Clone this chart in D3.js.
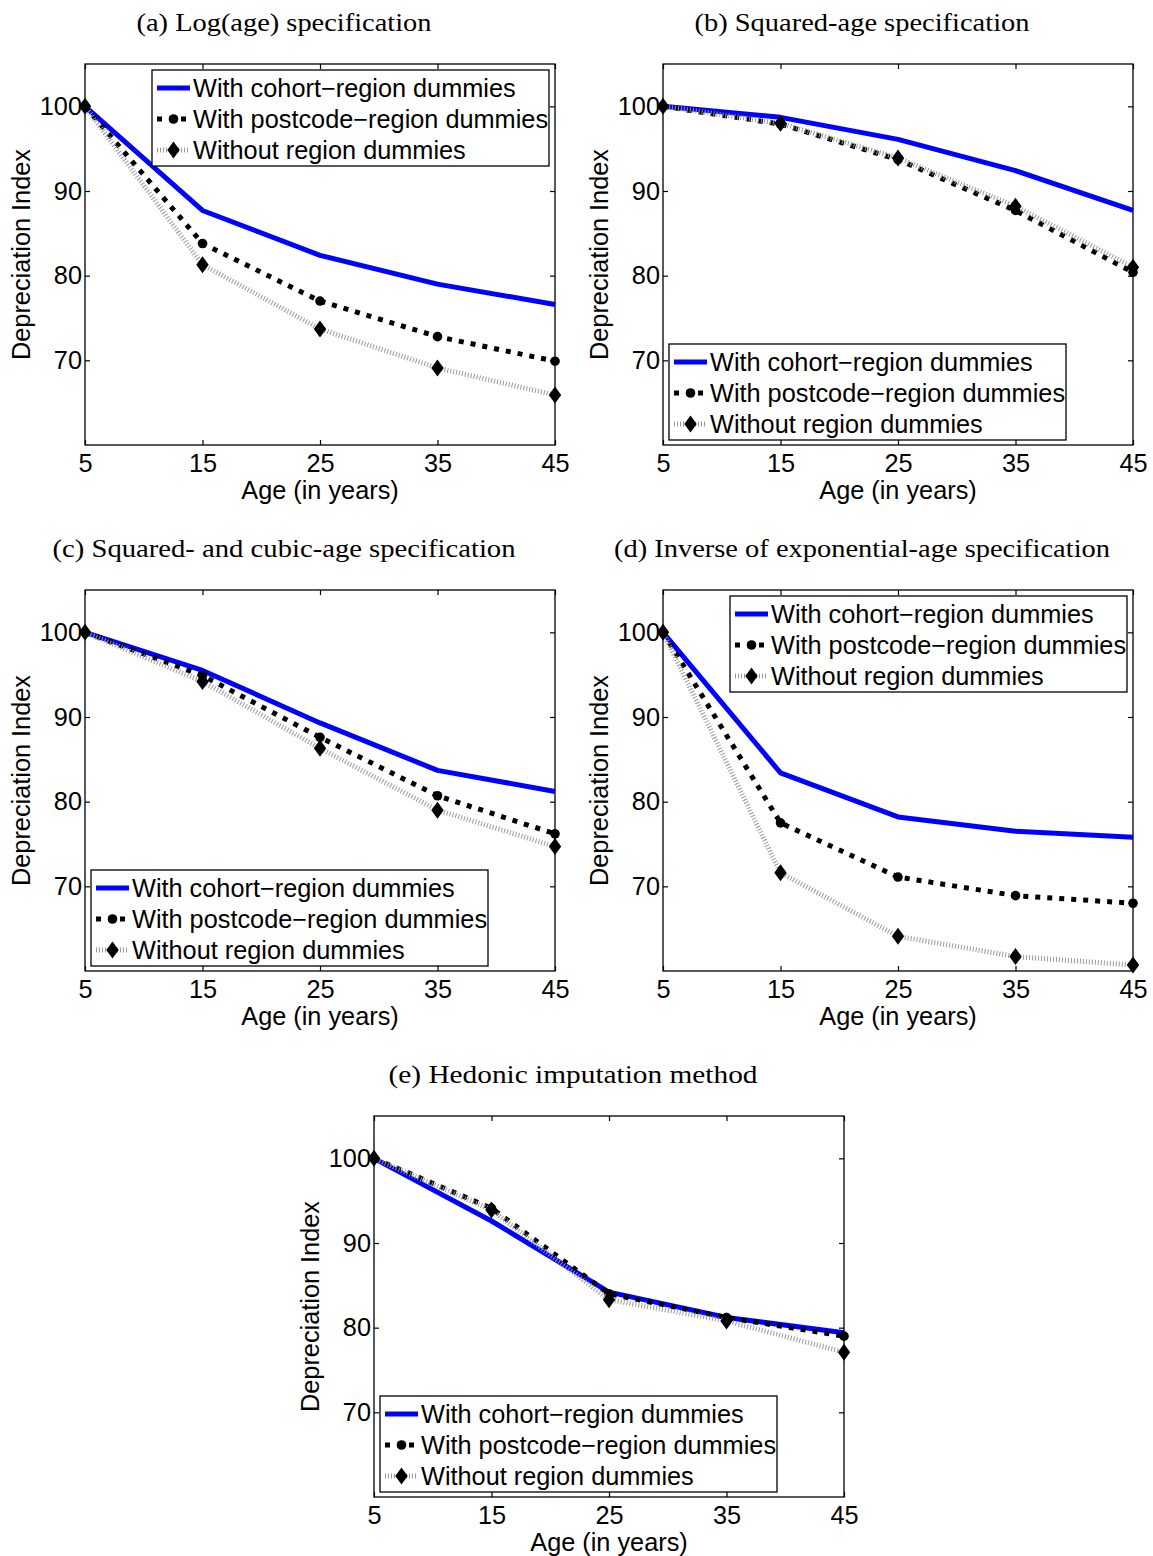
<!DOCTYPE html>
<html><head><meta charset="utf-8">
<script src="https://cdn.jsdelivr.net/npm/d3@7"></script>
<style>body{margin:0;background:#fff}</style>
</head><body>
<svg id="chart" width="1153" height="1556"></svg>
<script>
// ---------- data ----------
const ages = [5, 15, 25, 35, 45];
const yTicks = [70, 80, 90, 100];
const seriesNames = ["With cohort\u2212region dummies", "With postcode\u2212region dummies", "Without region dummies"];
const panelTitles = [
  "(a) Log(age) specification",
  "(b) Squared-age specification",
  "(c) Squared- and cubic-age specification",
  "(d) Inverse of exponential-age specification",
  "(e) Hedonic imputation method"
];
const xLabel = "Age (in years)";
const yLabel = "Depreciation Index";

const cohortA   = [100, 87.7, 82.4, 79.0, 76.6];
const postcodeA = [100, 83.8, 77.0, 72.8, 69.9];
const withoutA  = [100, 81.3, 73.7, 69.1, 65.9];

const cohortB   = [100, 98.7, 96.1, 92.4, 87.7];
const postcodeB = [100, 97.9, 93.7, 87.7, 80.4];
const withoutB  = [100, 98.0, 93.9, 88.2, 81.0];

const cohortC   = [100, 95.5, 89.3, 83.7, 81.2];
const postcodeC = [100, 94.9, 87.6, 80.7, 76.2];
const withoutC  = [100, 94.2, 86.3, 79.0, 74.7];

const cohortD   = [100, 83.4, 78.2, 76.5, 75.8];
const postcodeD = [100, 77.5, 71.1, 68.9, 68.0];
const withoutD  = [100, 71.6, 64.1, 61.7, 60.7];

const cohortE   = [100, 92.6, 84.2, 81.2, 79.4];
const postcodeE = [100, 94.1, 84.0, 81.2, 79.0];
const withoutE  = [100, 93.9, 83.3, 80.8, 77.1];

// ---------- layout ----------
const W = 470, H = 381;
const panels = [
  { title: panelTitles[0], series: [cohortA, postcodeA, withoutA], left: 85,  top: 64,   legend: "ne", tw: 295 },
  { title: panelTitles[1], series: [cohortB, postcodeB, withoutB], left: 663, top: 64,   legend: "sw", tw: 335 },
  { title: panelTitles[2], series: [cohortC, postcodeC, withoutC], left: 85,  top: 590,  legend: "sw", tw: 463 },
  { title: panelTitles[3], series: [cohortD, postcodeD, withoutD], left: 663, top: 590,  legend: "ne", tw: 496 },
  { title: panelTitles[4], series: [cohortE, postcodeE, withoutE], left: 374, top: 1116, legend: "sw", tw: 369 }
];

const styles = [
  { stroke: "#0000ff", width: 5, dash: null, marker: null },
  { stroke: "#000", width: 5, dash: "5,7", marker: "circle" },
  { stroke: "#999", width: 5, dash: "1,2", marker: "diamond" }
];
const SANS = "'Liberation Sans', Arial, Helvetica, sans-serif";
const SERIF = "'Liberation Serif', 'Times New Roman', serif";
const FS = 25.3;
const diamondPath = "M0,-8.5L6.2,0L0,8.5L-6.2,0Z";

const svg = d3.select("#chart");

function drawMarker(g, type, cx, cy) {
  if (type === "circle") {
    g.append("circle").attr("cx", cx).attr("cy", cy).attr("r", 4.8).attr("fill", "#000");
  } else if (type === "diamond") {
    g.append("path").attr("d", diamondPath).attr("transform", `translate(${cx},${cy})`).attr("fill", "#000");
  }
}

panels.forEach(p => {
  const x = d3.scaleLinear().domain([5, 45]).range([0, W]);
  const y = d3.scaleLinear().domain([60, 105]).range([H, 0]);

  // title
  svg.append("text")
    .attr("x", p.left + W / 2 - 36)
    .attr("y", p.top - 33)
    .attr("text-anchor", "middle")
    .attr("font-family", SERIF)
    .attr("font-size", 25)
    .attr("textLength", p.tw)
    .attr("lengthAdjust", "spacingAndGlyphs")
    .text(p.title);

  const g = svg.append("g").attr("transform", `translate(${p.left},${p.top})`);

  // frame
  g.append("rect").attr("x", 0).attr("y", 0).attr("width", W).attr("height", H)
    .attr("fill", "#fff").attr("stroke", "#000").attr("stroke-width", 1.3);

  // axes
  const axB = g.append("g").attr("transform", `translate(0,${H})`)
    .call(d3.axisBottom(x).tickValues(ages).tickSizeInner(-5).tickSizeOuter(0).tickPadding(9).tickFormat(d3.format("d")));
  const axT = g.append("g")
    .call(d3.axisTop(x).tickValues(ages).tickSizeInner(-5).tickSizeOuter(0).tickFormat(""));
  const axL = g.append("g")
    .call(d3.axisLeft(y).tickValues(yTicks).tickSizeInner(-5).tickSizeOuter(0).tickPadding(3).tickFormat(d3.format("d")));
  const axR = g.append("g").attr("transform", `translate(${W},0)`)
    .call(d3.axisRight(y).tickValues(yTicks).tickSizeInner(-5).tickSizeOuter(0).tickFormat(""));
  [axB, axT, axL, axR].forEach(a => {
    a.select(".domain").remove();
    a.selectAll("line").attr("stroke", "#000").attr("stroke-width", 1.2);
    a.selectAll("text").attr("font-family", SANS).attr("font-size", FS).attr("fill", "#000");
  });

  // axis labels
  g.append("text").attr("x", W / 2).attr("y", H + 54)
    .attr("text-anchor", "middle").attr("font-family", SANS).attr("font-size", FS).text(xLabel);
  g.append("text").attr("transform", `translate(-55,${H / 2}) rotate(-90)`)
    .attr("text-anchor", "middle").attr("font-family", SANS).attr("font-size", FS).text(yLabel);

  // lines
  const line = d3.line().x((d, i) => x(ages[i])).y(d => y(d));
  p.series.forEach((s, k) => {
    const st = styles[k];
    const path = g.append("path").datum(s).attr("d", line)
      .attr("fill", "none").attr("stroke", st.stroke).attr("stroke-width", st.width)
      .attr("stroke-linejoin", "round");
    if (st.dash) path.attr("stroke-dasharray", st.dash);
    if (st.marker) s.forEach((v, i) => drawMarker(g, st.marker, x(ages[i]), y(v)));
  });

  // legend
  const LW = 397, LH = 96;
  const lx = p.legend === "ne" ? W - 6 - LW : 6;
  const ly = p.legend === "ne" ? 6 : H - 5 - LH;
  const lg = g.append("g").attr("transform", `translate(${lx},${ly})`);
  lg.append("rect").attr("width", LW).attr("height", LH)
    .attr("fill", "#fff").attr("stroke", "#000").attr("stroke-width", 1.3);
  seriesNames.forEach((name, k) => {
    const st = styles[k];
    const ry = 18 + k * 31;
    const l = lg.append("line").attr("x1", 5).attr("x2", 38).attr("y1", ry).attr("y2", ry)
      .attr("stroke", st.stroke).attr("stroke-width", st.width);
    if (st.dash) l.attr("stroke-dasharray", st.dash);
    if (st.marker) drawMarker(lg, st.marker, 21.5, ry);
    lg.append("text").attr("x", 41).attr("y", ry + 9)
      .attr("font-family", SANS).attr("font-size", FS).attr("fill", "#000").text(name);
  });
});
</script>
</body></html>
